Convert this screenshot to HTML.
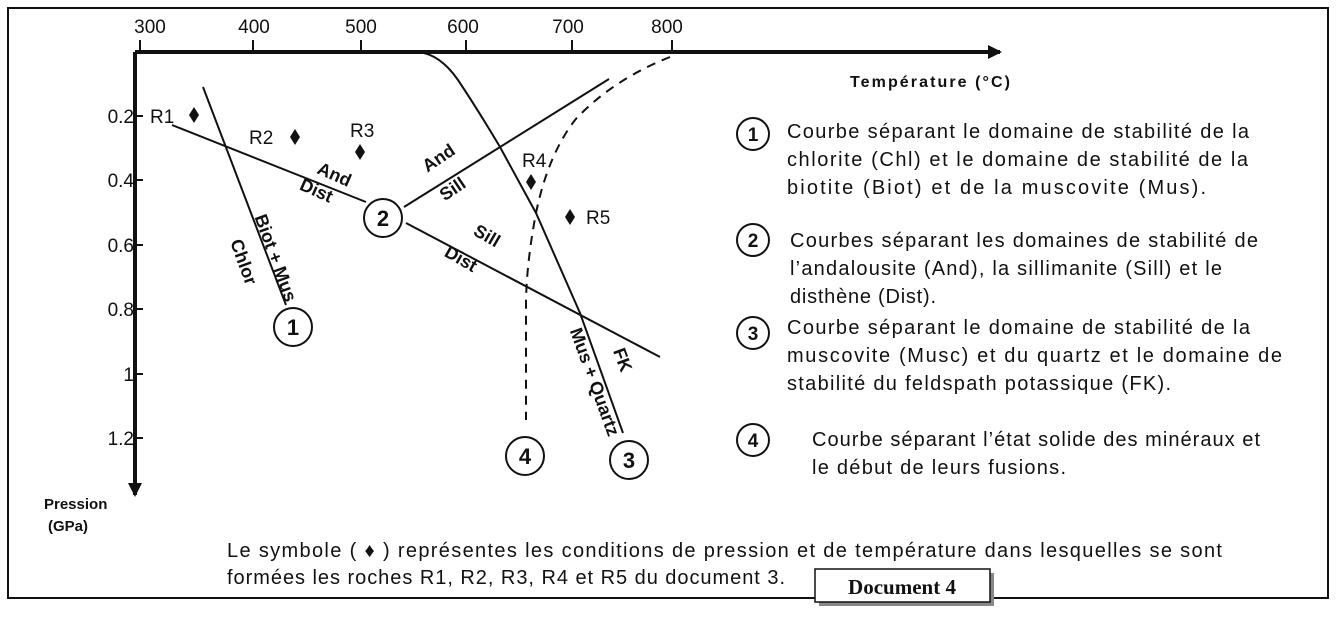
<!DOCTYPE html>
<html><head><meta charset="utf-8"><style>
html,body{margin:0;padding:0;background:#fff}
svg{display:block}
text{font-family:"Liberation Sans",sans-serif;fill:#111}
.b{font-weight:bold}
</style></head><body>
<svg width="1336" height="623" viewBox="0 0 1336 623" xmlns="http://www.w3.org/2000/svg">
<defs>
<marker id="ah2" markerWidth="14" markerHeight="14" refX="12" refY="7" orient="auto" markerUnits="userSpaceOnUse"><path d="M0,0 L14,7 L0,14 Z" fill="#111"/></marker></defs>
<path d="M815,598 L8,598 L8,8 L1328,8 L1328,598 L990,598" fill="none" stroke="#111" stroke-width="2"/>
<line x1="135" y1="52" x2="1000" y2="52" stroke="#111" stroke-width="4" marker-end="url(#ah2)"/>
<line x1="135" y1="52" x2="135" y2="495" stroke="#111" stroke-width="4" marker-end="url(#ah2)"/>
<g stroke="#111" stroke-width="2">
<line x1="140" y1="40" x2="140" y2="52"/><line x1="253" y1="40" x2="253" y2="52"/><line x1="361" y1="40" x2="361" y2="52"/><line x1="466" y1="40" x2="466" y2="52"/><line x1="572" y1="40" x2="572" y2="52"/><line x1="672" y1="40" x2="672" y2="52"/>
<line x1="135" y1="116" x2="143" y2="116"/><line x1="135" y1="180" x2="143" y2="180"/><line x1="135" y1="245" x2="143" y2="245"/><line x1="135" y1="309" x2="143" y2="309"/><line x1="135" y1="374" x2="143" y2="374"/><line x1="135" y1="438" x2="143" y2="438"/>
</g>
<g font-size="19" text-anchor="middle">
<text x="150" y="33">300</text><text x="254" y="33">400</text><text x="361" y="33">500</text><text x="463" y="33">600</text><text x="568" y="33">700</text><text x="667" y="33">800</text>
</g>
<g font-size="19" text-anchor="end">
<text x="134" y="123">0.2</text><text x="134" y="187">0.4</text><text x="134" y="252">0.6</text><text x="134" y="316">0.8</text><text x="134" y="381">1</text><text x="134" y="445">1.2</text>
</g>
<text x="850" y="87" font-size="16" class="b" textLength="160">Température (°C)</text>
<text x="44" y="509" font-size="15" class="b">Pression</text>
<text x="48" y="531" font-size="15" class="b">(GPa)</text>
<g fill="none" stroke="#111" stroke-width="2">
<line x1="203" y1="87" x2="286" y2="305"/>
<line x1="172" y1="125" x2="366" y2="202"/>
<line x1="404" y1="207" x2="609" y2="79"/>
<line x1="406" y1="223" x2="660" y2="357"/>
<path d="M400,52 L418,52 Q440,54 458,80 Q478,110 500,147 L536,213 L580,313 L623,433"/>
<path d="M670,57 Q612,80 575,120 Q548,155 536,213 Q527,260 526,300 L526,420" stroke-dasharray="9,7"/>
<circle cx="293" cy="327" r="19"/><circle cx="383" cy="218" r="19"/><circle cx="525" cy="456" r="19"/><circle cx="629" cy="460" r="19"/>
<circle cx="753" cy="134" r="16"/><circle cx="753" cy="240" r="16"/><circle cx="753" cy="333" r="16"/><circle cx="753" cy="440" r="16"/>
</g>
<g font-size="22" class="b" text-anchor="middle">
<text x="293" y="335">1</text><text x="383" y="226">2</text><text x="525" y="464">4</text><text x="629" y="468">3</text>
<text x="753" y="141" font-size="19">1</text><text x="753" y="247" font-size="19">2</text><text x="753" y="340" font-size="19">3</text><text x="753" y="447" font-size="19">4</text>
</g>
<g fill="#111">
<path d="M194,107 l5,8 l-5,8 l-5,-8z"/><path d="M295,129 l5,8 l-5,8 l-5,-8z"/><path d="M360,144 l5,8 l-5,8 l-5,-8z"/><path d="M531,174 l5,8 l-5,8 l-5,-8z"/><path d="M570,209 l5,8 l-5,8 l-5,-8z"/>
</g>
<g font-size="19">
<text x="150" y="123">R1</text><text x="249" y="144">R2</text><text x="350" y="137">R3</text><text x="522" y="167">R4</text><text x="586" y="224">R5</text>
</g>
<g font-size="18" class="b" text-anchor="middle">
<text transform="translate(332,180) rotate(24)">And</text>
<text transform="translate(314,196) rotate(24)">Dist</text>
<text transform="translate(442,163) rotate(-34)">And</text>
<text transform="translate(456,194) rotate(-34)">Sill</text>
<text transform="translate(484,241) rotate(30)">Sill</text>
<text transform="translate(458,264) rotate(30)">Dist</text>
<text transform="translate(270,260) rotate(70)">Biot + Mus</text>
<text transform="translate(238,264) rotate(70)">Chlor</text>
<text transform="translate(589,384) rotate(70)">Mus + Quartz</text>
<text transform="translate(617,362) rotate(70)">FK</text>
</g>
<g font-size="20">
<text x="787" y="138" textLength="462">Courbe séparant le domaine de stabilité de la</text>
<text x="787" y="166" textLength="461">chlorite (Chl) et le domaine de stabilité de la</text>
<text x="787" y="194" textLength="419">biotite (Biot) et de la muscovite (Mus).</text>
<text x="790" y="247" textLength="468">Courbes séparant les domaines de stabilité de</text>
<text x="790" y="275" textLength="432">l’andalousite (And), la sillimanite (Sill) et le</text>
<text x="790" y="303" textLength="146">disthène (Dist).</text>
<text x="787" y="334" textLength="463">Courbe séparant le domaine de stabilité de la</text>
<text x="787" y="362" textLength="495">muscovite (Musc) et du quartz et le domaine de</text>
<text x="787" y="390" textLength="384">stabilité du feldspath potassique (FK).</text>
<text x="812" y="446" textLength="448">Courbe séparant l’état solide des minéraux et</text>
<text x="812" y="474" textLength="254">le début de leurs fusions.</text>
<text x="227" y="557" textLength="995">Le symbole ( ♦ ) représentes les conditions de pression et de température dans lesquelles se sont</text>
<text x="227" y="584" textLength="558">formées les roches R1, R2, R3, R4 et R5 du document 3.</text>
</g>
<rect x="819" y="573" width="175" height="33" fill="#888"/>
<rect x="815" y="569" width="175" height="33" fill="#fff" stroke="#111" stroke-width="1.5"/>
<text x="902" y="594" font-size="21" class="b" text-anchor="middle" style="font-family:'Liberation Serif',serif">Document 4</text>
</svg>
</body></html>
